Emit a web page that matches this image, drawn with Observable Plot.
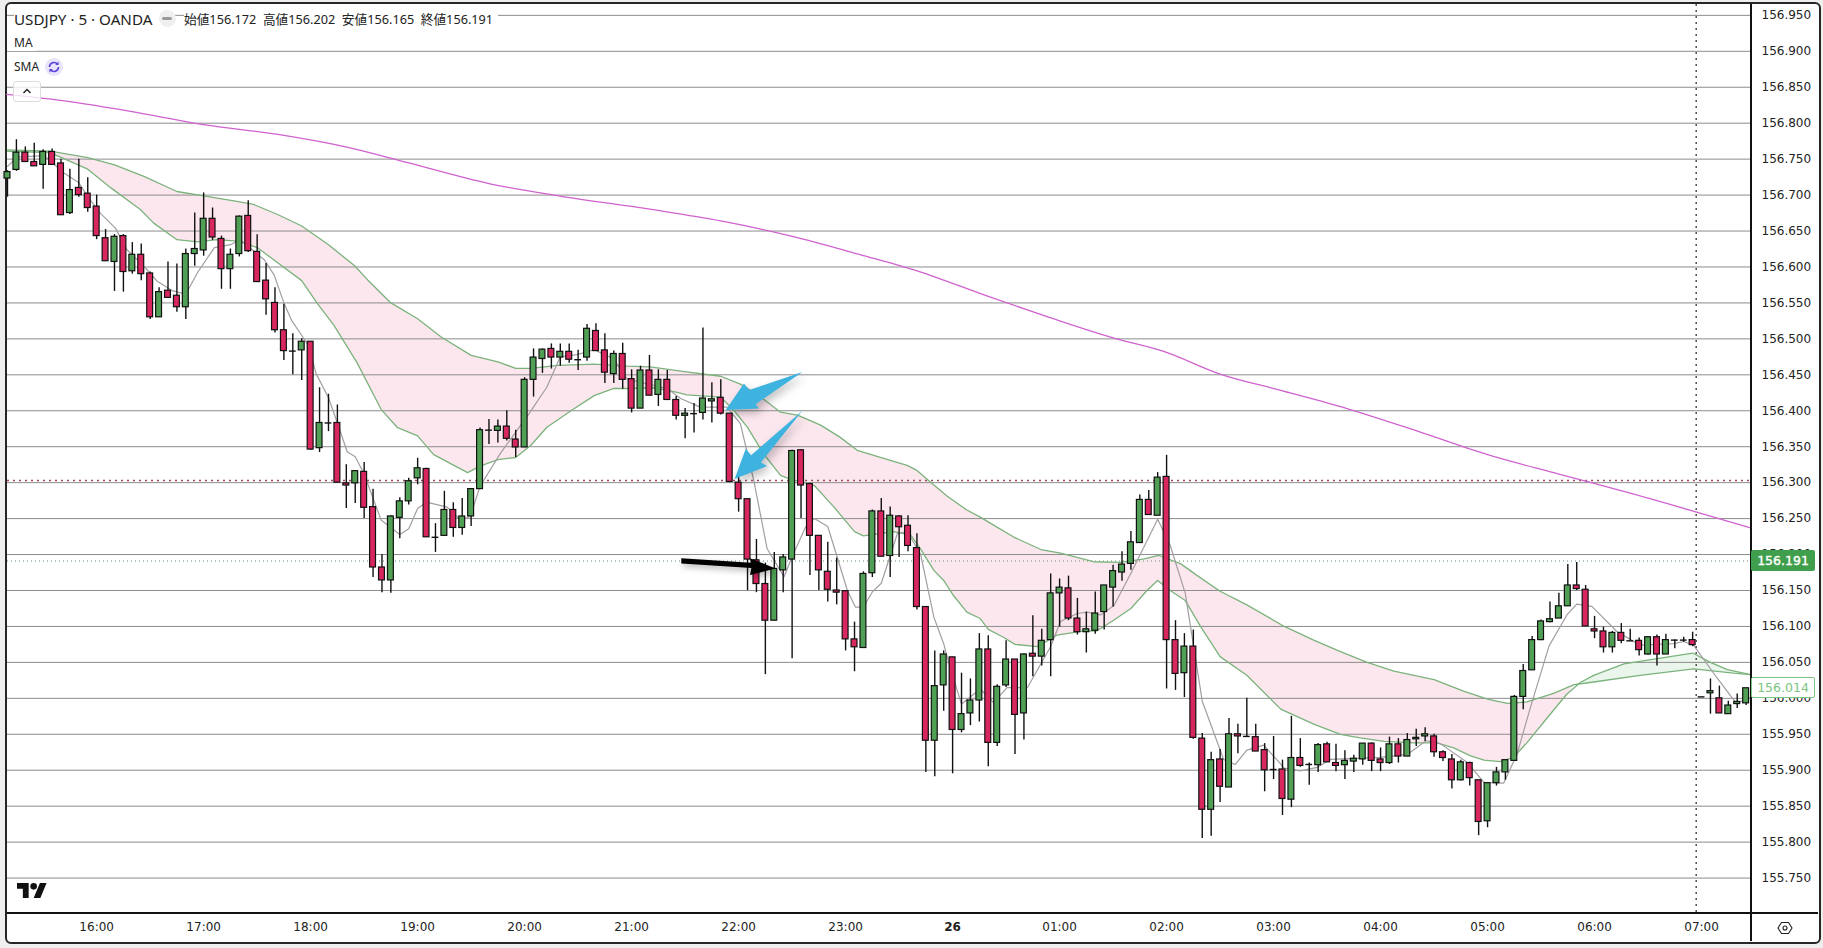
<!DOCTYPE html>
<html>
<head>
<meta charset="utf-8">
<script src="https://cdn.jsdelivr.net/npm/d3@7"></script>
<script src="https://cdn.jsdelivr.net/npm/@observablehq/plot@0.6"></script>
<style>
html,body{margin:0;padding:0;background:#efefef;width:1823px;height:948px;overflow:hidden}
#frame{position:absolute;left:5px;top:2px;width:1812px;height:938px;border:2px solid #262626;border-radius:6px;background:#fff}
#wrap{position:absolute;left:0;top:0;width:1823px;height:948px}
#wrap svg{background:transparent;position:absolute;left:0;top:0}
.lg{position:absolute;font-family:"Noto Sans","Noto Sans CJK JP",sans-serif;color:#222;background:#fff;white-space:nowrap;line-height:16px}
.hl{position:absolute;background:#111}
.pill{position:absolute;left:1751px;width:64px;height:21px;line-height:21px;text-align:center;font:12.5px/21px "DejaVu Sans",sans-serif;border-radius:2px;box-sizing:border-box}
</style>
</head>
<body>
<div id="frame"></div>
<div id="wrap"></div>
<script>
// candle position: 0 is the 16:00 bar, one step per 5-minute bar
const firstBar = -10;
const highs = [156.734,156.777,156.767,156.772,156.763,156.764,156.750,156.736,156.750,156.724,
156.700,156.652,156.645,156.645,156.634,156.632,156.593,156.571,156.607,156.604,
156.625,156.675,156.703,156.682,156.643,156.625,156.671,156.692,156.645,156.605,
156.571,156.548,156.507,156.500,156.496,156.432,156.423,156.408,156.325,156.316,
156.328,156.291,156.200,156.254,156.279,156.306,156.334,156.320,156.243,156.288,
156.272,156.278,156.291,156.376,156.388,156.387,156.400,156.373,156.446,156.486,
156.486,156.493,156.493,156.493,156.484,156.520,156.521,156.507,156.483,156.494,
156.457,156.462,156.477,156.457,156.456,156.420,156.403,156.410,156.515,156.439,
156.443,156.396,156.313,156.277,156.221,156.188,156.203,156.200,156.345,156.346,
156.299,156.226,156.217,156.195,156.149,156.106,156.176,156.262,156.278,156.266,
156.254,156.254,156.229,156.127,156.066,156.066,156.057,156.035,156.027,156.090,
156.087,156.019,156.080,156.054,156.062,156.115,156.096,156.173,156.166,156.170,
156.139,156.120,156.148,156.157,156.185,156.204,156.232,156.283,156.289,156.314,
156.338,156.108,156.090,156.095,155.951,155.925,155.929,155.972,155.964,156.000,
155.964,155.937,155.947,155.914,155.975,155.944,155.910,155.937,155.939,155.936,
155.927,155.921,155.937,155.938,155.931,155.946,155.944,155.951,155.957,155.959,
155.950,155.927,155.922,155.914,155.911,155.886,155.882,155.904,155.914,156.004,
156.047,156.086,156.109,156.134,156.146,156.186,156.189,156.157,156.114,156.099,
156.093,156.104,156.096,156.084,156.086,156.088,156.089,156.081,156.085,156.092,
156.002,156.027,156.017,155.996,156.006,156.014];
const lows = [156.697,156.733,156.746,156.740,156.708,156.742,156.672,156.673,156.697,156.676,
156.638,156.608,156.566,156.565,156.590,156.581,156.527,156.530,156.556,156.537,
156.527,156.601,156.615,156.637,156.569,156.569,156.614,156.620,156.579,156.533,
156.508,156.470,156.450,156.442,156.345,156.342,156.371,156.300,156.264,156.271,
156.250,156.168,156.147,156.146,156.222,156.269,156.297,156.224,156.203,156.226,
156.224,156.227,156.239,156.291,156.353,156.355,156.358,156.335,156.349,156.419,
156.452,156.458,156.462,156.466,156.456,156.469,156.483,156.438,156.438,156.430,
156.397,156.403,156.421,156.406,156.415,156.387,156.361,156.369,156.387,156.383,
156.394,156.300,156.259,156.150,156.147,156.033,156.108,156.147,156.055,156.250,
156.171,156.150,156.134,156.130,156.066,156.037,156.070,156.168,156.197,156.168,
156.196,156.204,156.123,155.897,155.891,155.982,155.895,155.952,155.962,155.967,
155.905,155.933,156.015,155.922,155.942,156.030,156.045,156.030,156.099,156.108,
156.088,156.063,156.089,156.095,156.127,156.163,156.178,156.216,156.255,156.254,
156.013,156.011,156.001,155.943,155.805,155.808,155.855,155.876,155.923,155.947,
155.926,155.870,155.887,155.837,155.848,155.904,155.879,155.897,155.911,155.898,
155.887,155.897,155.907,155.898,155.898,155.908,155.910,155.919,155.933,155.940,
155.918,155.912,155.874,155.885,155.878,155.809,155.820,155.878,155.886,155.913,
155.984,156.039,156.080,156.105,156.111,156.128,156.150,156.100,156.083,156.063,
156.063,156.076,156.080,156.059,156.060,156.045,156.061,156.069,156.078,156.072,
156.002,155.978,155.979,155.978,155.986,155.990];
const opens = [156.723,156.735,156.759,156.746,156.742,156.760,156.744,156.675,156.710,156.702,
156.684,156.640,156.607,156.643,156.594,156.617,156.591,156.530,156.567,156.560,
156.544,156.618,156.623,156.667,156.639,156.597,156.618,156.671,156.621,156.581,
156.550,156.512,156.483,156.484,156.496,156.348,156.383,156.383,156.299,156.299,
156.315,156.266,156.182,156.164,156.251,156.274,156.306,156.319,156.224,156.226,
156.262,156.237,156.253,156.291,156.373,156.372,156.378,156.360,156.349,156.443,
156.472,156.486,156.474,156.482,156.471,156.474,156.511,156.484,156.451,156.479,
156.444,156.403,156.456,156.422,156.443,156.415,156.393,156.396,156.397,156.413,
156.418,156.396,156.300,156.277,156.192,156.159,156.108,156.178,156.193,156.345,
156.298,156.226,156.176,156.150,156.149,156.082,156.070,156.174,156.260,156.198,
156.253,156.240,156.209,156.127,155.941,156.018,156.057,155.956,155.979,155.997,
156.068,155.938,156.018,156.054,155.979,156.062,156.058,156.081,156.146,156.153,
156.111,156.092,156.094,156.120,156.154,156.175,156.187,156.216,156.276,156.254,
156.308,156.081,156.035,156.072,155.944,155.845,155.915,155.876,155.950,155.947,
155.946,155.928,155.901,155.901,155.859,155.917,155.908,155.907,155.936,155.910,
155.907,155.912,155.915,155.937,155.915,155.910,155.936,155.919,155.943,155.947,
155.947,155.925,155.915,155.886,155.910,155.886,155.829,155.882,155.897,155.913,
156.002,156.039,156.081,156.106,156.111,156.128,156.157,156.151,156.096,156.093,
156.071,156.091,156.080,156.080,156.061,156.085,156.061,156.081,156.081,156.081,
156.002,156.007,156.000,155.978,155.992,155.993];
const closes = [156.732,156.759,156.746,156.740,156.760,156.742,156.672,156.707,156.700,156.682,
156.643,156.608,156.642,156.593,156.617,156.590,156.530,156.565,156.557,156.544,
156.618,156.625,156.667,156.641,156.597,156.617,156.670,156.622,156.579,156.555,
156.512,156.483,156.483,156.496,156.346,156.383,156.383,156.300,156.296,156.316,
156.265,156.182,156.164,156.253,156.274,156.302,156.320,156.224,156.224,156.262,
156.237,156.253,156.291,156.373,156.373,156.378,156.361,156.349,156.443,156.474,
156.485,156.474,156.482,156.471,156.471,156.514,156.483,156.453,156.479,156.443,
156.403,156.456,156.421,156.443,156.415,156.393,156.396,156.396,156.417,156.416,
156.396,156.301,156.277,156.193,156.159,156.108,156.180,156.196,156.344,156.296,
156.226,156.178,156.151,156.147,156.082,156.071,156.173,156.260,156.197,156.254,
156.238,156.212,156.127,155.941,156.017,156.061,155.956,155.978,155.997,156.068,
155.938,156.016,156.054,155.977,156.061,156.058,156.080,156.146,156.154,156.111,
156.092,156.096,156.118,156.157,156.177,156.186,156.217,156.276,156.255,156.307,
156.081,156.034,156.072,155.945,155.845,155.914,155.877,155.950,155.947,155.947,
155.926,155.900,155.901,155.860,155.917,155.906,155.908,155.935,155.911,155.906,
155.913,155.916,155.937,155.913,155.910,155.936,155.919,155.942,155.945,155.950,
155.925,155.917,155.886,155.911,155.889,155.828,155.882,155.897,155.914,156.002,
156.038,156.081,156.107,156.110,156.128,156.157,156.152,156.100,156.093,156.071,
156.091,156.080,156.080,156.067,156.085,156.061,156.081,156.081,156.081,156.074,
156.002,156.010,155.979,155.990,155.995,156.014];

// indicator vertices: [bar position, price]
const slowLine = [[-10,156.763],[-5.2,156.761],[-1,156.752],[2,156.742],[5.3,156.726],[9,156.705],[12,156.699],[15.4,156.692],[17.6,156.687],[20.3,156.673],[23,156.657],[26,156.631],[28.9,156.602],[30.4,156.582],[33,156.550],[36,156.528],[38.6,156.503],[42,156.477],[45,156.468],[47,156.459],[48.7,156.459],[51.7,156.463],[55.8,156.465],[59.5,156.462],[62.1,156.461],[65.5,156.455],[70,156.448],[72.2,156.437],[74.5,156.419],[76.7,156.398],[78.6,156.394],[81.2,156.380],[83.4,156.363],[85.3,156.345],[87.9,156.335],[90.9,156.324],[92,156.317],[93.5,156.301],[95.4,156.281],[97.6,156.262],[99.1,156.252],[100.6,156.241],[102.9,156.224],[105.9,156.207],[108.1,156.202],[111.8,156.190],[114.8,156.189],[117.5,156.194],[119.1,156.199],[121.6,156.187],[123.4,156.171],[126,156.149],[129,156.130],[133.2,156.100],[136.5,156.081],[139.5,156.065],[142.5,156.050],[145.5,156.038],[150,156.026],[153.3,156.010],[156,155.999],[158.2,155.993],[160.4,155.995],[163.4,156.007],[165.7,156.019],[167.5,156.022],[173.1,156.032],[179.1,156.041],[183.6,156.035],[185.5,156.033]];
const fastLine = [[-10,156.761],[-5.2,156.759],[-1,156.736],[1.6,156.710],[4.9,156.680],[6.4,156.661],[9,156.638],[11.3,156.635],[13.5,156.638],[15.8,156.636],[18,156.627],[20.3,156.606],[23,156.581],[24.7,156.550],[26.6,156.519],[29.2,156.467],[31.9,156.402],[33.7,156.377],[36,156.365],[37.8,156.339],[41.6,156.314],[43,156.323],[45,156.332],[47,156.335],[48.7,156.352],[50.5,156.377],[53.2,156.400],[55.8,156.421],[58,156.431],[59.5,156.431],[62.5,156.432],[65,156.426],[66.2,156.422],[70,156.419],[71.5,156.400],[73,156.377],[74.8,156.340],[76.7,156.310],[77.8,156.305],[80.5,156.296],[82.7,156.266],[85,156.232],[86,156.226],[89.4,156.232],[91.3,156.227],[92.4,156.208],[93.9,156.178],[95,156.164],[96.1,156.143],[97.6,156.120],[99.1,156.111],[100,156.096],[101.7,156.085],[103,156.075],[105.5,156.072],[107.7,156.088],[110.4,156.093],[112.2,156.094],[114.1,156.109],[116,156.125],[117.8,156.150],[119,156.164],[120.4,156.150],[122.1,156.136],[123.8,156.100],[126,156.058],[129,156.032],[132.8,155.985],[136.5,155.964],[139.5,155.950],[141.7,155.945],[144.4,155.940],[147.7,155.938],[150.3,155.938],[152.2,155.931],[154.1,155.920],[155.6,155.914],[157.4,155.912],[158.9,155.918],[160.4,155.938],[162.7,155.973],[164.9,156.006],[166.4,156.022],[167.9,156.032],[171.3,156.048],[175.4,156.056],[179,156.063],[181,156.050],[182.9,156.040],[185.5,156.033]];
const maLine = [[-10,156.740],[-8.9,156.753],[-5.9,156.755],[-3.7,156.731],[-2,156.717],[-1,156.698],[0.4,156.675],[2.1,156.654],[3.4,156.624],[5.3,156.601],[6.8,156.580],[8.5,156.567],[10,156.562],[11.3,156.592],[13.2,156.627],[15,156.631],[16.1,156.638],[18.8,156.610],[19.9,156.589],[21,156.550],[21.9,156.525],[23.1,156.503],[23.8,156.490],[24.6,156.452],[26,156.418],[27,156.383],[28.1,156.343],[29,156.336],[30,156.312],[31.9,156.248],[34,156.228],[35,156.236],[36,156.264],[37,156.273],[39.3,156.266],[40.8,156.248],[41.9,156.253],[43,156.295],[45.3,156.341],[48.5,156.396],[50.5,156.433],[52,156.475],[53.9,156.478],[55.8,156.485],[58,156.472],[59.5,156.444],[64,156.431],[65.5,156.417],[67.7,156.405],[70.7,156.405],[72.2,156.382],[73.7,156.303],[75.2,156.208],[77.1,156.169],[78,156.197],[79.5,156.238],[80.5,156.250],[82,156.239],[84.2,156.150],[85.1,156.127],[86,156.127],[87,156.148],[88,156.160],[89.8,156.229],[90.9,156.232],[92.4,156.201],[93.9,156.113],[95,156.076],[95.8,156.039],[97,155.992],[99.1,156.013],[100.6,155.994],[102.1,156.015],[104.4,156.015],[107,156.072],[108.1,156.107],[110,156.118],[111.1,156.120],[112.6,156.116],[114.1,156.129],[116,156.174],[119,156.249],[120.4,156.213],[122.1,156.146],[124,155.996],[126.4,155.915],[127.7,155.908],[129,155.928],[130.9,155.935],[133.2,155.903],[135,155.899],[136.9,155.904],[138.4,155.915],[144,155.918],[147,155.922],[149.1,155.941],[150.7,155.937],[153.7,155.911],[155.6,155.883],[157.8,155.882],[159.3,155.922],[160.8,155.987],[162.9,156.073],[164.9,156.116],[166,156.131],[167.7,156.128],[170.5,156.093],[173.1,156.074],[176.9,156.076],[178,156.079],[179.1,156.074],[181.7,156.029],[183.9,155.993],[185.5,156.001]];
const smaLine = [[-10.1,156.840],[-3,156.830],[4.9,156.814],[12,156.798],[20.5,156.784],[28.3,156.766],[34.9,156.745],[44,156.716],[51.8,156.699],[62.2,156.680],[70,156.664],[77.9,156.643],[85.7,156.617],[92.2,156.594],[100,156.559],[106.6,156.531],[114.4,156.500],[119.6,156.483],[126,156.451],[132.6,156.429],[140.5,156.402],[148.3,156.371],[156,156.339],[164,156.312],[171.8,156.286],[185.5,156.237]];

// hand-drawn annotation arrows
const blueArrowA = [[70.55,156.401],[72.6,156.438],[73.2,156.429],[79.15,156.454],[73.9,156.409],[74.3,156.403]];
const blueArrowB = [[71.55,156.305],[72.8,156.347],[73.4,156.338],[79.15,156.400],[74.5,156.328],[75.2,156.323]];
const blackArrow = [[65.57,156.195],[73.35,156.1885],[73.28,156.195],[76.15,156.1805],[73.28,156.1716],[73.43,156.1814],[65.57,156.1875]];

const priceTicks = [156.95,156.9,156.85,156.8,156.75,156.7,156.65,156.6,156.55,156.5,156.45,156.4,156.35,156.3,156.25,156.2,156.15,156.1,156.05,156,155.95,155.9,155.85,155.8,155.75];
const hourTicks = [0,12,24,36,48,60,72,84,108,120,132,144,156,168,180];
const hourLabels = ["16:00","17:00","18:00","19:00","20:00","21:00","22:00","23:00","01:00","02:00","03:00","04:00","05:00","06:00","07:00"];
const dayTick = [96];
const dayLabel = "26";
const resistance = [156.303];
const lastPrice = 156.191;
const lastClose = 156.014;
const cursorBar = [179.4];

const bars = highs.map((h,k)=>({i:firstBar+k,h,l:lows[k],o:opens[k],c:closes[k]}));
const upC = "#4f9f54", dnC = "#d8265f", lineGreen="#7bb37c";
const pinkPoly = slowLine.filter(d=>d[0]<=165.7).concat(fastLine.filter(d=>d[0]<=164.9).reverse());
const greenPoly = slowLine.filter(d=>d[0]>=165.7).concat(fastLine.filter(d=>d[0]>=166.4).reverse());
const X=d=>d[0], Y=d=>d[1];
const barHalf = 0.33;

const chart = Plot.plot({
  width:1823, height:948,
  marginLeft:7, marginRight:73, marginTop:4, marginBottom:36,
  style:{background:"transparent",overflow:"visible"},
  x:{type:"linear",domain:[-10.0,185.49]},
  y:{type:"linear",domain:[155.7021,156.9651]},
  marks:[
    Plot.line(pinkPoly,{x:X,y:Y,fill:"#fce7ee",stroke:"none"}),
    Plot.line(greenPoly,{x:X,y:Y,fill:"#eaf6ec",stroke:"none"}),
    Plot.ruleY(priceTicks,{stroke:"#8c8c8c",strokeWidth:1}),
    Plot.ruleY(resistance,{stroke:"#a04a58",strokeWidth:1.6,strokeDasharray:"2 4"}),
    Plot.ruleY([lastPrice],{stroke:"#5f8f62",strokeWidth:1,strokeDasharray:"1 3"}),
    Plot.line(smaLine,{x:X,y:Y,stroke:"#d062cf",strokeWidth:1.3,curve:"monotone-x"}),
    Plot.line(slowLine,{x:X,y:Y,stroke:lineGreen,strokeWidth:1.3}),
    Plot.line(fastLine,{x:X,y:Y,stroke:lineGreen,strokeWidth:1.3}),
    Plot.line(maLine,{x:X,y:Y,stroke:"#a39da3",strokeWidth:1.2}),
    Plot.ruleX(bars,{x:"i",y1:"l",y2:"h",stroke:"#111",strokeWidth:1.4}),
    Plot.rect(bars.filter(d=>d.o!==d.c),{x1:d=>d.i-barHalf,x2:d=>d.i+barHalf,y1:"o",y2:"c",fill:d=>d.c>d.o?upC:dnC,stroke:"#111",strokeWidth:1.2}),
    Plot.ruleY(bars.filter(d=>d.o===d.c),{y:"o",x1:d=>d.i-barHalf-0.05,x2:d=>d.i+barHalf+0.05,stroke:"#111",strokeWidth:1.4}),
    Plot.ruleX(cursorBar,{stroke:"#444",strokeWidth:1.4,strokeDasharray:"2 4"}),
    Plot.line(blueArrowA,{x:X,y:Y,fill:"#3fb3df",stroke:"none",imageFilter:"drop-shadow(3px 4px 4px rgba(0,0,0,.25))"}),
    Plot.line(blueArrowB,{x:X,y:Y,fill:"#3fb3df",stroke:"none",imageFilter:"drop-shadow(3px 4px 4px rgba(0,0,0,.25))"}),
    Plot.line(blackArrow,{x:X,y:Y,fill:"#000",stroke:"none",imageFilter:"drop-shadow(2px 3px 3px rgba(0,0,0,.3))"}),
    Plot.axisY(priceTicks,{anchor:"right",tickSize:0,tickPadding:11,label:null,tickFormat:d3.format(".3f"),fontFamily:"DejaVu Sans",fontSize:12,color:"#222"}),
    Plot.axisX(hourTicks,{anchor:"bottom",tickSize:0,tickPadding:10,label:null,tickFormat:i=>hourLabels[hourTicks.indexOf(i)],fontFamily:"DejaVu Sans",fontSize:12,color:"#222"}),
    Plot.axisX(dayTick,{anchor:"bottom",tickSize:0,tickPadding:10,label:null,tickFormat:()=>dayLabel,fontFamily:"DejaVu Sans",fontSize:12,fontWeight:"bold",color:"#222"})
  ]
});
const wrap = document.getElementById("wrap");
wrap.appendChild(chart);
const y = chart.scale("y");
function add(html){wrap.insertAdjacentHTML("beforeend",html);}
// axis boundary lines
add('<div class="hl" style="left:1750px;top:4px;width:1.5px;height:937px"></div>');
add('<div class="hl" style="left:7px;top:912px;width:1811px;height:1.5px"></div>');
// legend
add('<div class="lg" style="left:14px;top:11px;font-size:15.2px;padding-right:8px">USDJPY · 5 · OANDA</div>');
add('<div style="position:absolute;left:159px;top:10px;width:17px;height:17px;border-radius:9px;background:#efefef"></div><div style="position:absolute;left:162px;top:17px;width:10px;height:3px;border-radius:2px;background:#999"></div>');
add('<div class="lg" style="left:184px;top:11px;font-size:12.7px;padding-right:5px">始値156.172&nbsp; 高値156.202&nbsp; 安値156.165&nbsp; 終値156.191</div>');
add('<div class="lg" style="left:7px;top:35px;font-size:12px;padding:0 4px 0 7px">MA</div>');
add('<div class="lg" style="left:14px;top:59px;font-size:12px;">SMA</div>');
add('<svg style="position:absolute;left:45px;top:58px" width="18" height="18" viewBox="0 0 18 18"><circle cx="9" cy="9" r="9" fill="#e9e3fb"/><path d="M4.5 9a4.5 4.5 0 0 1 8-2.8M13.5 9a4.5 4.5 0 0 1-8 2.8" fill="none" stroke="#5b44d6" stroke-width="1.6"/><path d="M13.6 3.6v3.4h-3.4zM4.4 14.4v-3.4h3.4z" fill="#5b44d6"/></svg>');
add('<div style="position:absolute;left:13px;top:81px;width:28px;height:21px;border:1px solid #ddd;border-radius:3px;background:rgba(255,255,255,.8);box-sizing:border-box"><svg width="26" height="19" viewBox="0 0 26 19" style="display:block"><path d="M9.5 11l3.5-3.5 3.5 3.5" fill="none" stroke="#222" stroke-width="1.4"/></svg></div>');
// logo
add('<svg style="position:absolute;left:17px;top:883px" width="30" height="15" viewBox="0 4 36 18" preserveAspectRatio="none"><path d="M14 22H7V11H0V4h14v18zM28 22h-8l7.5-18h8L28 22z" fill="#111"/><circle cx="20" cy="8" r="4" fill="#111"/></svg>');
// settings icon
add('<svg style="position:absolute;left:1777px;top:920px" width="16" height="16" viewBox="0 0 16 16"><path d="M4.5 2.5h7L15 8l-3.5 5.5h-7L1 8z" fill="none" stroke="#222" stroke-width="1.1"/><circle cx="8" cy="8" r="2" fill="none" stroke="#222" stroke-width="1.1"/></svg>');
// price tags
add('<div class="pill" style="top:'+(y.apply(lastPrice)-10.5)+'px;background:#3f9f4c;color:#fff;-webkit-text-stroke:.35px #fff">'+d3.format(".3f")(lastPrice)+'</div>');
add('<div class="pill" style="top:'+(y.apply(lastClose)-10.5)+'px;background:#fff;color:#7cc583;border:1px solid #7cc583;line-height:19px">'+d3.format(".3f")(lastClose)+'</div>');
</script>
</body>
</html>
